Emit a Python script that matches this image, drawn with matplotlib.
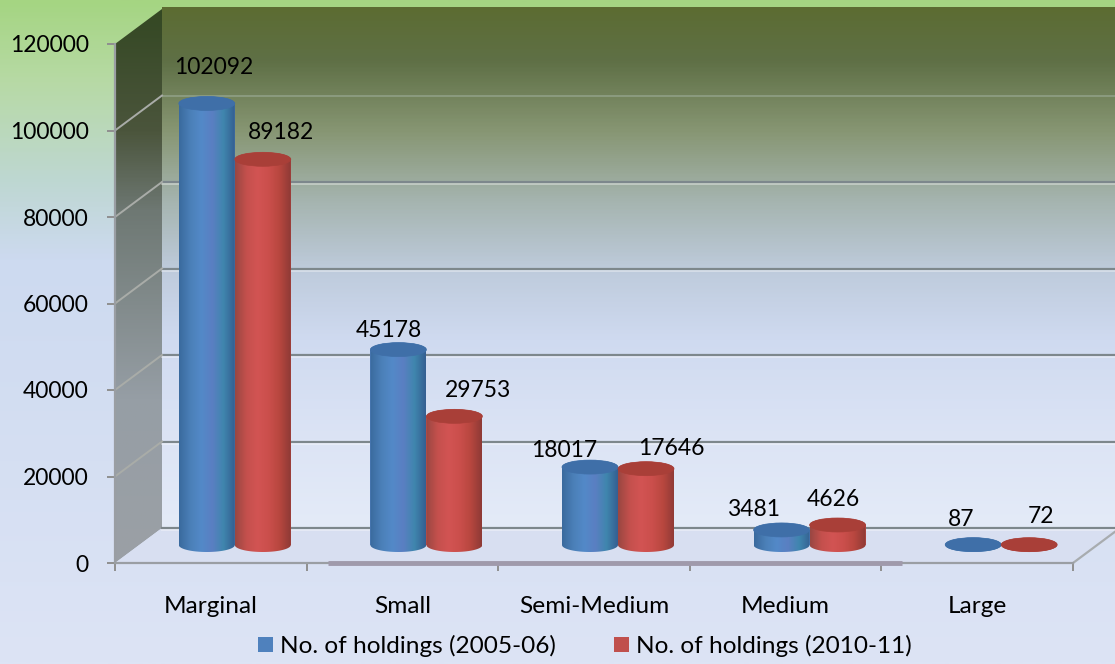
import numpy as np
import matplotlib
matplotlib.use("Agg")
import matplotlib.pyplot as plt
from matplotlib.colors import LinearSegmentedColormap
from matplotlib.patches import Polygon, PathPatch, Ellipse, Patch
from matplotlib.path import Path
from matplotlib.transforms import Affine2D

categories = ["Marginal", "Small", "Semi-Medium", "Medium", "Large"]
series_2005 = [102092, 45178, 18017, 3481, 87]
series_2010 = [89182, 29753, 17646, 4626, 72]
series_names = ["No. of holdings (2005-06)", "No. of holdings (2010-11)"]
y_ticks = [0, 20000, 40000, 60000, 80000, 100000, 120000]

label_off_2005 = [(7, 36), (-10, 19), (-26, 17), (-28, 20), (-12, 25)]
label_off_2010 = [(18, 27), (24, 26), (25, 20), (-4, 25), (12, 28)]

W, H = 1115, 664
plt.rcParams["font.family"] = ["Lato", "DejaVu Sans"]
FS = 16.5
FS_TEXT = 17.6
fig = plt.figure(figsize=(W / 100, H / 100), dpi=100)


def stops(pairs, y0, y1):
    return LinearSegmentedColormap.from_list(
        "g", [((y - y0) / (y1 - y0), tuple(c / 255 for c in col)) for y, col in pairs]
    )


bg = fig.add_axes([0, 0, 1, 1], zorder=0)
bg.set_xlim(0, W)
bg.set_ylim(H, 0)
bg.axis("off")


def vgrad(pairs, x0, x1, y0, y1, poly=None):
    grad = np.linspace(0, 1, 400)[:, None]
    im = bg.imshow(grad, cmap=stops(pairs, y0, y1), extent=(x0, x1, y1, y0),
                   aspect="auto", vmin=0, vmax=1, zorder=1)
    if poly is not None:
        p = Polygon(poly, closed=True, transform=bg.transData, fc="none", ec="none")
        bg.add_patch(p)
        im.set_clip_path(p)
    return im


vgrad([(0, (165, 213, 130)), (80, (183, 218, 165)), (180, (190, 215, 210)),
       (260, (205, 218, 240)), (664, (221, 228, 245))], 0, W, 0, H)
vgrad([(7, (92, 108, 50)), (60, (95, 112, 70)), (130, (135, 150, 115)), (200, (165, 180, 175)),
       (270, (190, 203, 220)), (340, (207, 218, 240)), (440, (220, 228, 245)), (528, (228, 235, 248))],
      162, W, 7, 528, [(162, 7), (W, 7), (W, 528), (162, 528)])
vgrad([(9, (52, 72, 35)), (130, (75, 85, 60)), (210, (110, 120, 115)), (400, (150, 158, 165)),
       (563, (155, 160, 165))], 115, 162, 9, 563, [(115, 44), (162, 9), (162, 528), (115, 563)])
bg.add_patch(Polygon([(115, 563), (162, 528), (1120, 528), (1073, 563)], closed=True,
                     fc=(216 / 255, 223 / 255, 241 / 255), ec="none", zorder=2))
bg.set_xlim(0, W)
bg.set_ylim(H, 0)

ax = fig.add_axes([115 / W, (H - 563) / H, 958 / W, 519 / H], zorder=1)
ax.patch.set_alpha(0)
ax.set_xlim(0, 5)
ax.set_ylim(0, 120000)

back = ax.transData + Affine2D().translate(47, 35)
mid = ax.transData + Affine2D().translate(24, 18)
px_y = 120000 / 519.0

for v in y_ticks[:-1]:
    faint = v >= 100000
    ax.plot([0, 5], [v, v], color="#8f9f86" if faint else "#7d878c", lw=1.2 if faint else 1.6,
            transform=back, clip_on=False, zorder=2)
    if not faint:
        ax.plot([0, 5], [v - 2.2 * px_y, v - 2.2 * px_y], color="white", alpha=0.35, lw=1.4,
                transform=back, clip_on=False, zorder=2)
for v in y_ticks[1:-1]:
    ax.plot([0, 47 / 191.6], [v, v + 35 * px_y], color="#a9aca8", lw=1.4, clip_on=False, zorder=2)
ax.plot([5, 5 + 47 / 191.6], [0, 35 * px_y], color="#a8acaf", lw=1.6, clip_on=False, zorder=2)
ax.plot([1.11, 4.11], [0, 0], color="#a09aab", lw=3.5, solid_capstyle="butt", zorder=3,
        clip_on=False)

bar_w = 56 / 191.6
ell_h = 14 * px_y
x_idx = np.arange(len(categories)) + 0.5
off = 28 / 191.6

blue = LinearSegmentedColormap.from_list("b", ["#3a6a9e", "#4b80b8", "#5389c8", "#5a7fc2", "#3f86ae", "#356092"])
red = LinearSegmentedColormap.from_list("r", ["#9a4742", "#c4504d", "#d25453", "#cb4f4c", "#b8473f", "#8f3a36"])
top_cols = ["#3f6fa8", "#a93f38"]


def cylinder(xc, val, cmap, top, name_zorder):
    ax.bar(xc, val, bar_w, color=cmap(0.5), transform=mid, zorder=name_zorder, clip_on=False)
    t = np.linspace(np.pi, 2 * np.pi, 40)
    xs = xc + bar_w / 2 * np.cos(t)
    ys = ell_h / 2 * np.sin(t)
    verts = list(zip(xs, ys)) + list(zip(xs[::-1], val - ys[::-1]))
    patch = PathPatch(Path(verts + [verts[0]]), transform=mid, fc="none", ec="none", clip_on=False)
    ax.add_patch(patch)
    im = ax.imshow(np.linspace(0, 1, 64)[None, :], cmap=cmap, aspect="auto",
                   extent=(xc - bar_w / 2, xc + bar_w / 2, -ell_h, val + ell_h),
                   transform=mid, zorder=name_zorder, vmin=0, vmax=1)
    im.set_clip_path(patch)
    ax.add_patch(Ellipse((xc, val), bar_w, ell_h, transform=mid, fc=top, ec=top, lw=0.5,
                         zorder=name_zorder + 0.1, clip_on=False))


for i, (a, b) in enumerate(zip(series_2005, series_2010)):
    cylinder(x_idx[i] - off, a, blue, top_cols[0], 4 + i * 0.01)
    cylinder(x_idx[i] + off, b, red, top_cols[1], 5 + i * 0.01)
    ax.annotate(str(a), (x_idx[i] - off, a), xycoords=mid, xytext=label_off_2005[i],
                textcoords="offset pixels", ha="center", va="center", fontsize=FS,
                color="black", zorder=8)
    ax.annotate(str(b), (x_idx[i] + off, b), xycoords=mid, xytext=label_off_2010[i],
                textcoords="offset pixels", ha="center", va="center", fontsize=FS,
                color="black", zorder=8)

ax.set_xlim(0, 5)
ax.set_ylim(0, 120000)
ax.set_yticks(y_ticks)
ax.set_yticklabels([str(v) for v in y_ticks], fontsize=FS)
ax.set_xticks(range(6))
ax.set_xticklabels([])
ax.set_xticks(x_idx, categories, minor=True, fontsize=FS_TEXT)
ax.tick_params(axis="x", which="minor", length=0, pad=24)
ax.tick_params(axis="x", which="major", length=6, width=1.4, color="#8f8f8f")
ax.tick_params(axis="y", length=6, width=1.4, color="#8f8f8f", pad=13)
for s in ("top", "right"):
    ax.spines[s].set_visible(False)
for s in ("left", "bottom"):
    ax.spines[s].set_color("#9a9ea3")
    ax.spines[s].set_linewidth(1.6)

handles = [Patch(fc="#4f81bd"), Patch(fc="#c0504d")]
fig.legend(handles, series_names, ncol=2, frameon=False, fontsize=FS_TEXT, loc="center",
           bbox_to_anchor=(585 / W, (H - 646) / H), handlelength=0.62, handleheight=0.62,
           handletextpad=0.3, columnspacing=2.35, borderpad=0, labelspacing=0)

fig.savefig("out.png", dpi=100)
